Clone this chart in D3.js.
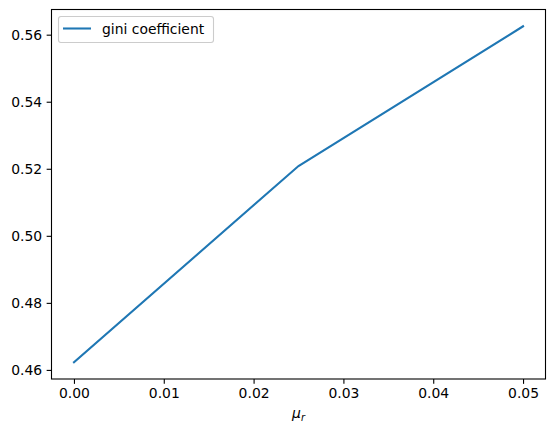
<!DOCTYPE html>
<html><head><meta charset="utf-8">
<script src="https://cdn.jsdelivr.net/npm/d3@7"></script>
<style>body{margin:0;background:#fff}svg{display:block}text{font-family:"DejaVu Sans",sans-serif;fill:#000}</style>
</head><body>
<script>
const muR = [0.0, 0.025, 0.05];
const gini = [0.4623, 0.5208, 0.5625];
const xTicks = [0.00, 0.01, 0.02, 0.03, 0.04, 0.05];
const yTicks = [0.46, 0.48, 0.50, 0.52, 0.54, 0.56];
const seriesName = "gini coefficient";

const W = 556, H = 432;
const L = 51.5, R = 545.5, T = 9.5, B = 379;
const fs = 13.9;
const svg = d3.select("body").append("svg").attr("width", W).attr("height", H);

const xmin = d3.min(muR), xmax = d3.max(muR), xm = (xmax - xmin) * 0.05;
const ymin = d3.min(gini), ymax = d3.max(gini), ym = (ymax - ymin) * 0.05;
const x = d3.scaleLinear().domain([xmin - xm, xmax + xm]).range([L, R]);
const y = d3.scaleLinear().domain([ymin - ym, ymax + ym]).range([B, T]);

// line
svg.append("path").datum(muR.map((v, i) => [v, gini[i]]))
  .attr("fill", "none").attr("stroke", "#1f77b4").attr("stroke-width", 2.08)
  .attr("stroke-linecap", "square")
  .attr("d", d3.line().x(d => x(d[0])).y(d => y(d[1])));

// axes
const xAxis = d3.axisBottom(x).tickValues(xTicks).tickFormat(d3.format(".2f")).tickSizeInner(4.86).tickSizeOuter(0).tickPadding(4.5);
const yAxis = d3.axisLeft(y).tickValues(yTicks).tickFormat(d3.format(".2f")).tickSizeInner(4.86).tickSizeOuter(0).tickPadding(4.5);
const gx = svg.append("g").attr("transform", `translate(0,${B})`).call(xAxis);
const gy = svg.append("g").attr("transform", `translate(${L},0)`).call(yAxis);
[gx, gy].forEach(g => {
  g.select(".domain").remove();
  g.selectAll(".tick line").attr("stroke", "#000").attr("stroke-width", 1.1);
  g.selectAll(".tick text").attr("font-size", fs).attr("font-family", "DejaVu Sans").attr("fill", "#000");
});
gx.selectAll(".tick text").attr("dy", "0.72em");

// spines
svg.append("rect").attr("x", L).attr("y", T).attr("width", R - L).attr("height", B - T)
  .attr("fill", "none").attr("stroke", "#000").attr("stroke-width", 1.1);

// x label
const xl = svg.append("text").attr("x", (L + R) / 2).attr("y", 418).attr("text-anchor", "middle")
  .attr("font-size", fs).attr("font-family", "DejaVu Sans");
xl.append("tspan").attr("font-style", "italic").text("μ");
xl.append("tspan").attr("font-style", "italic").attr("font-size", fs * 0.7).attr("dy", 3).text("r");

// legend
const lg = svg.append("g");
lg.append("rect").attr("x", 58.5).attr("y", 16.5).attr("width", 155).attr("height", 26).attr("rx", 2.5)
  .attr("fill", "#fff").attr("fill-opacity", 0.8).attr("stroke", "#cccccc").attr("stroke-width", 1.1);
lg.append("line").attr("x1", 63).attr("x2", 91).attr("y1", 28.5).attr("y2", 28.5)
  .attr("stroke", "#1f77b4").attr("stroke-width", 2.08);
lg.append("text").attr("x", 102).attr("y", 33.5).attr("font-size", fs).text(seriesName);
</script>
</body></html>
